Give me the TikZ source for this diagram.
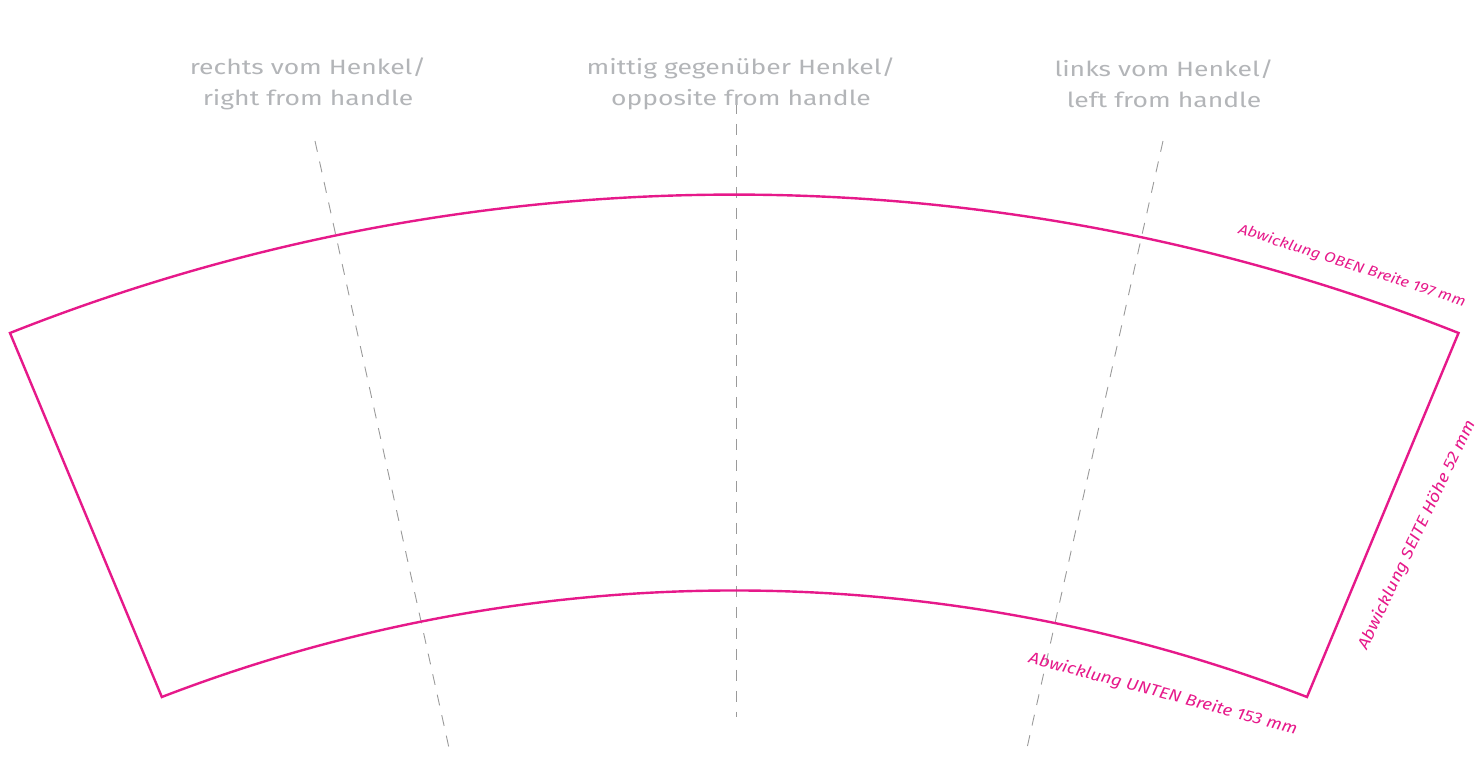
\documentclass[tikz,border=0pt]{standalone}
\usepackage{fontspec}
\setmainfont{Fira Sans}
\newfontfamily\headfont[FakeStretch=1.28]{Fira Sans}
\newfontfamily\dimfont[FakeStretch=1.15]{Fira Sans}
\definecolor{cuppink}{HTML}{E6198A}
\definecolor{labelgray}{HTML}{B3B5B8}
\definecolor{dashgray}{HTML}{9A9A9A}
\begin{document}
\begin{tikzpicture}[x=1pt,y=1pt,
  outline/.style={draw=cuppink, line width=2.4pt, line join=miter},
  guide/.style={draw=dashgray, line width=0.9pt, dash pattern=on 11pt off 10pt},
  headlabel/.style={text=labelgray, font=\headfont\fontsize{20.7}{31}\selectfont, align=center, inner sep=0pt},
  dimlabel/.style={text=cuppink, inner sep=0pt}]
\useasboundingbox (0,0) rectangle (1484,762);
% guide lines
\coordinate (lt) at (315,621); \coordinate (lb) at (449,14);
\coordinate (mt) at (736,659); \coordinate (mb) at (736,45);
\coordinate (rt) at (1163,621); \coordinate (rb) at (1027,14);
\draw[guide] (lt) -- (lb);
\draw[guide] (mt) -- (mb);
\draw[guide] (rt) -- (rb);
% outline
\coordinate (ol) at (10,429);
\coordinate (ir) at (1307,65);
\draw[outline] (ol) arc[start angle=111.64, end angle=68.36, radius=1964.2]
  -- (ir) arc[start angle=68.92, end angle=111.08, radius=1592] -- cycle;
% head labels
\node[headlabel] (hl) at (308,678.5) {rechts vom Henkel/\\right from handle};
\node[headlabel] (hm) at (741,678.5) {mittig gegenüber Henkel/\\opposite from handle};
\node[headlabel] (hr) at (1164,678.5) {links vom Henkel/\\left from handle};
% dimension labels
\node[dimlabel, rotate=-18, font=\dimfont\itshape\fontsize{14.4}{16}\selectfont] (dtop) at (1352,496) {Abwicklung OBEN Breite 197 mm};
\node[dimlabel, rotate=-15, font=\dimfont\itshape\fontsize{16.1}{18}\selectfont] (dbot) at (1163,68) {Abwicklung UNTEN Breite 153 mm};
\node[dimlabel, rotate=64.5, font=\dimfont\itshape\fontsize{16.1}{18}\selectfont] (dside) at (1417,227) {Abwicklung SEITE Höhe 52 mm};
\end{tikzpicture}
\end{document}
